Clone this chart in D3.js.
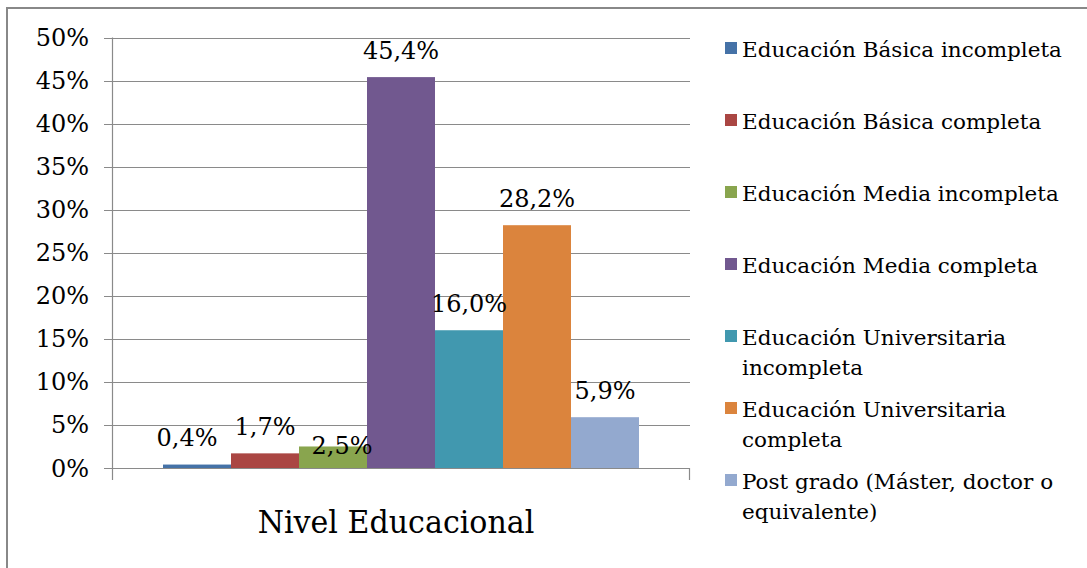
<!DOCTYPE html>
<html>
<head>
<meta charset="utf-8">
<script src="https://cdn.jsdelivr.net/npm/d3@7"></script>
<style>
  body { margin: 0; background: #fff; }
</style>
</head>
<body>
<div id="chart"></div>
<script>
// ---- DATA ----
const categories = [
    "Educación Básica incompleta",
    "Educación Básica completa",
    "Educación Media incompleta",
    "Educación Media completa",
    "Educación Universitaria incompleta",
    "Educación Universitaria completa",
    "Post grado (Máster, doctor o equivalente)"
];
const values = [0.4, 1.7, 2.5, 45.4, 16.0, 28.2, 5.9];
const colors = ["#4572A7", "#AA4643", "#89A54E", "#71588F", "#4198AF", "#DB843D", "#93A9CF"];
const yTicks = [0, 5, 10, 15, 20, 25, 30, 35, 40, 45, 50];
const groupLabel = "Nivel Educacional";
// legend text as it wraps in the box
const legendLines = [
    ["Educación Básica incompleta"],
    ["Educación Básica completa"],
    ["Educación Media incompleta"],
    ["Educación Media completa"],
    ["Educación Universitaria", "incompleta"],
    ["Educación Universitaria", "completa"],
    ["Post grado (Máster, doctor o", "equivalente)"]
];
// hand-moved data labels (dx, dy)
const labelNudge = [[-10, 0], [0, 0], [9, 26], [0, 0], [0, 0], [0, 0], [0, 0]];

// ---- LAYOUT ----
const width = 1087, height = 568;
const plot = { left: 112, right: 690, top: 37.5, bottom: 468 };
const serif = "DejaVu Serif";

const svg = d3.select("#chart").append("svg")
    .attr("width", width)
    .attr("height", height);

// squeeze/stretch text sideways to match the original widths
function placeText(sel, x, y, k) {
    sel.attr("transform", `translate(${x},${y}) scale(${k},1)`)
        .style("font-family", serif)
        .attr("fill", "#000");
}

// outer frame
svg.append("rect")
    .attr("x", 7).attr("y", 8)
    .attr("width", width + 10).attr("height", height + 10)
    .attr("fill", "#fff")
    .attr("stroke", "#888")
    .attr("stroke-width", 2);

const y = d3.scaleLinear()
    .domain([0, 50])
    .range([plot.bottom, plot.top]);

const x = d3.scaleBand()
    .domain(categories)
    .range([plot.left, plot.right])
    .paddingInner(0)
    .paddingOuter(0.75);

const fmt = v => d3.format(".1f")(v).replace(".", ",") + "%";

// gridlines + y ticks
svg.selectAll(".grid")
    .data(yTicks)
    .enter()
    .append("line")
    .attr("x1", plot.left - 8)
    .attr("x2", plot.right)
    .attr("y1", d => Math.round(y(d)) + 0.5)
    .attr("y2", d => Math.round(y(d)) + 0.5)
    .attr("stroke", "#8a8a8a")
    .attr("stroke-width", 1.2);

svg.selectAll(".ytick")
    .data(yTicks)
    .enter()
    .append("text")
    .attr("text-anchor", "end")
    .attr("font-size", "24px")
    .text(d => d + "%")
    .each(function(d) { placeText(d3.select(this), 89, y(d) + 8.5, 1.0); });

// y axis line and bottom tick marks
svg.append("line")
    .attr("x1", plot.left + 0.5).attr("x2", plot.left + 0.5)
    .attr("y1", plot.top).attr("y2", plot.bottom + 12)
    .attr("stroke", "#8a8a8a").attr("stroke-width", 1.2);
svg.append("line")
    .attr("x1", plot.right - 0.5).attr("x2", plot.right - 0.5)
    .attr("y1", plot.bottom).attr("y2", plot.bottom + 12)
    .attr("stroke", "#8a8a8a").attr("stroke-width", 1.2);

// bars
svg.selectAll(".bar")
    .data(values)
    .enter()
    .append("rect")
    .attr("x", (d, i) => x(categories[i]))
    .attr("y", d => y(d))
    .attr("width", x.bandwidth())
    .attr("height", d => plot.bottom - y(d))
    .attr("fill", (d, i) => colors[i]);

// x axis line
svg.append("line")
    .attr("x1", plot.left).attr("x2", plot.right)
    .attr("y1", plot.bottom + 0.5).attr("y2", plot.bottom + 0.5)
    .attr("stroke", "#8a8a8a").attr("stroke-width", 1.2);

// data labels
svg.selectAll(".dlabel")
    .data(values)
    .enter()
    .append("text")
    .attr("text-anchor", "middle")
    .attr("font-size", "24px")
    .text(d => fmt(d))
    .each(function(d, i) {
        const cx = x(categories[i]) + x.bandwidth() / 2 + labelNudge[i][0];
        placeText(d3.select(this), cx, y(d) - 18.5 + labelNudge[i][1], 1.0);
    });

// category title
svg.append("text")
    .attr("text-anchor", "middle")
    .attr("font-size", "32px")
    .text(groupLabel)
    .call(placeText, 396, 533, 0.94);

// legend
const legend = svg.selectAll(".legend")
    .data(legendLines)
    .enter()
    .append("g")
    .attr("transform", (d, i) => `translate(725,${57 + i * 72})`);

legend.append("rect")
    .attr("x", 0)
    .attr("y", -15)
    .attr("width", 12)
    .attr("height", 12)
    .attr("fill", (d, i) => colors[i]);

legend.each(function(lines) {
    const g = d3.select(this);
    lines.forEach((line, j) => {
        g.append("text")
            .attr("font-size", "20.5px")
            .text(line)
            .call(placeText, 17, j * 30, 1.05);
    });
});
</script>
</body>
</html>
